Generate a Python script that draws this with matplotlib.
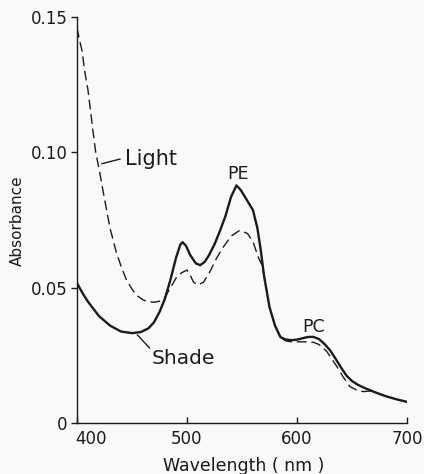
import matplotlib
matplotlib.use('Agg')
import matplotlib.pyplot as plt
import matplotlib.transforms as mtransforms

# 스펙트럼 값
shade_wl = [400, 405, 410, 420, 430, 440, 450, 458, 465, 470, 475, 480, 485, 490,
            494, 496, 499, 503, 508, 512, 516, 520, 525, 530, 535, 540, 545, 549,
            555, 560, 564, 567, 570, 575, 580, 585, 590, 595, 600, 605, 610, 615,
            620, 625, 630, 635, 640, 645, 650, 655, 660, 670, 680, 690, 700]
shade_abs = [0.0517, 0.0480, 0.0448, 0.0395, 0.0360, 0.0338, 0.0332, 0.0336, 0.0350,
             0.0372, 0.0410, 0.0460, 0.0530, 0.0610, 0.0660, 0.0668, 0.0655, 0.0620,
             0.0590, 0.0583, 0.0595, 0.0620, 0.0660, 0.0710, 0.0765, 0.0835, 0.0878,
             0.0860, 0.0820, 0.0786, 0.0720, 0.0640, 0.0545, 0.0428, 0.0360, 0.0317,
             0.0308, 0.0306, 0.0308, 0.0313, 0.0318, 0.0318, 0.0310, 0.0292, 0.0269,
             0.0238, 0.0205, 0.0175, 0.0155, 0.0142, 0.0132, 0.0115, 0.0100, 0.0088,
             0.0078]

light_wl = [400, 402, 404.5, 407, 410, 414.5, 417, 420, 424, 430, 436, 440, 445, 450,
            454, 460, 465, 470, 475, 480, 485, 490, 495, 500, 503, 506, 510, 515, 521,
            527, 533, 540, 548, 555, 560, 565, 568, 570, 575, 580, 585, 590, 595, 600,
            605, 610, 615, 620, 627, 636, 642, 648, 655, 660, 666, 670, 680, 690, 700]
light_abs = [0.146, 0.142, 0.1377, 0.130, 0.123, 0.108, 0.100, 0.094, 0.085, 0.072,
             0.0627, 0.0580, 0.0528, 0.0495, 0.0472, 0.0455, 0.0448, 0.0446, 0.0450,
             0.0465, 0.0500, 0.0535, 0.0555, 0.0565, 0.0545, 0.0520, 0.0510, 0.0520,
             0.0560, 0.0610, 0.0650, 0.0690, 0.0712, 0.0700, 0.0670, 0.0610, 0.0585,
             0.0545, 0.0428, 0.0360, 0.0315, 0.0303, 0.0300, 0.0300, 0.0300, 0.0300,
             0.0298, 0.0290, 0.0265, 0.0210, 0.0170, 0.0135, 0.0120, 0.0116, 0.0118,
             0.0115, 0.0100, 0.0088, 0.0078]

x_ticks = [400, 500, 600, 700]
y_ticks = [0, 0.05, 0.10, 0.15]
y_tick_labels = ['0', '0.05', '0.10', '0.15']

ink = '#1c1a1c'
bg = '#faf9fa'

plt.rcParams['font.family'] = ['DejaVu Sans']

fig = plt.figure(figsize=(4.24, 4.74), dpi=100, facecolor=bg)
ax = fig.add_axes([0.1816, 0.1076, 0.7783, 0.8565], facecolor=bg)

ax.plot(light_wl, light_abs, color=ink, lw=1.0, dashes=(7, 3.5))
ax.plot(shade_wl, shade_abs, color=ink, lw=1.7, solid_capstyle='round')

ax.set_xlim(400, 700)
ax.set_ylim(0, 0.15)
ax.set_xticks(x_ticks)
ax.set_yticks(y_ticks)
ax.set_yticklabels(y_tick_labels)

for s in ['top', 'right']:
    ax.spines[s].set_visible(False)
for s in ['left', 'bottom']:
    ax.spines[s].set_linewidth(1.0)
    ax.spines[s].set_color(ink)

ax.tick_params(axis='x', direction='in', length=4, width=1, colors=ink,
               labelsize=12, pad=5)
ax.tick_params(axis='y', direction='out', length=4, width=1, colors=ink,
               labelsize=12, pad=3)

# 400 라벨은 원본처럼 오른쪽으로 살짝 밀기
fig.canvas.draw()
lab400 = ax.get_xticklabels()[0]
lab400.set_transform(lab400.get_transform() +
                     mtransforms.ScaledTranslation(14 / 100, 0, fig.dpi_scale_trans))

# 라벨 & 주석
ax.text(443.5, 0.0975, 'Light', fontsize=15, color=ink, va='center', ha='left')
ax.plot([422.7, 439], [0.0958, 0.0975], color=ink, lw=1.0)
ax.text(468, 0.024, 'Shade', fontsize=14.5, color=ink, va='center', ha='left')
ax.plot([455, 466], [0.0325, 0.0277], color=ink, lw=1.0)
ax.text(546, 0.0919, 'PE', fontsize=12.5, color=ink, va='center', ha='center')
ax.text(615.5, 0.0354, 'PC', fontsize=12.5, color=ink, va='center', ha='center')

fig.text(17.5 / 424, 1 - 221 / 474, 'Absorbance', rotation=90, fontsize=11,
         color=ink, ha='center', va='center')
fig.text(244 / 424, 1 - 466 / 474, 'Wavelength ( nm )', fontsize=12.5,
         color=ink, ha='center', va='center')

fig.savefig('out.png', dpi=100, facecolor=bg)
